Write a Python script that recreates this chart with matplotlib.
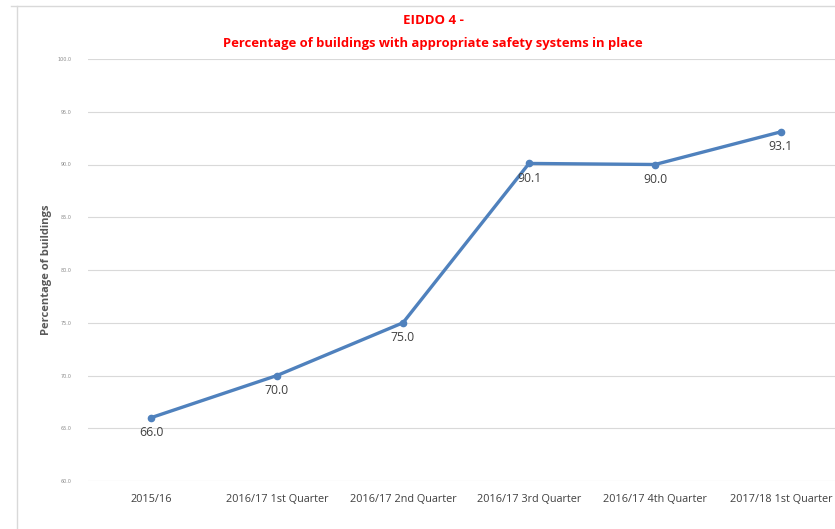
import matplotlib
matplotlib.use("Agg")
import matplotlib.pyplot as plt
from matplotlib.lines import Line2D

categories = ["2015/16", "2016/17 1st Quarter", "2016/17 2nd Quarter",
              "2016/17 3rd Quarter", "2016/17 4th Quarter", "2017/18 1st Quarter"]
values = [66.0, 70.0, 75.0, 90.1, 90.0, 93.1]
yticks = [60.0, 65.0, 70.0, 75.0, 80.0, 85.0, 90.0, 95.0, 100.0]

W, H = 835, 529
fig = plt.figure(figsize=(W / 100, H / 100), dpi=100)
fig.patch.set_facecolor("white")

left_px, right_px, top_px, bot_px = 88, 835, 59, 481
ax = fig.add_axes([left_px / W, 1 - bot_px / H, (right_px - left_px) / W, (bot_px - top_px) / H])

x = list(range(len(categories)))
ax.plot(x, values, color="#4F81BD", lw=2.4, marker="o", ms=4.5, solid_capstyle="round")
for xi, v in zip(x, values):
    ax.annotate(f"{v:.1f}", (xi, v), xytext=(0, -6), textcoords="offset points",
                ha="center", va="top", fontsize=8.8, color="#404040",
                family="Open Sans")

ax.set_ylim(60, 100)
ax.set_xlim(-0.5, -0.5 + (right_px - left_px) / 126)
ax.set_yticks(yticks)
ax.set_yticklabels([f"{t:.1f}" for t in yticks], fontsize=3.5, color="#8c8c8c")
ax.set_xticks(x)
ax.set_xticklabels(categories, fontsize=7.8, color="#404040", family="Open Sans")
ax.tick_params(axis="both", length=0)
ax.tick_params(axis="y", pad=12)
ax.tick_params(axis="x", pad=9)
ax.grid(axis="y", color="#d9d9d9", lw=0.8)
ax.set_axisbelow(True)
for s in ax.spines.values():
    s.set_visible(False)

fig.text(47 / W, 1 - 270 / H, "Percentage of buildings", rotation=90, ha="center", va="center",
         fontsize=8, fontweight="bold", color="#595959", family="Open Sans")

fig.text(433 / W, 1 - 20 / H, "EIDDO 4 -", ha="center", va="center", fontsize=9.5,
         fontweight="bold", color="#FF0000", family="Open Sans")
fig.text(433 / W, 1 - 43 / H, "Percentage of buildings with appropriate safety systems in place",
         ha="center", va="center", fontsize=9.4, fontweight="bold", color="#FF0000",
         family="Open Sans")

# outer chart frame (left and top edges visible)
fig.add_artist(Line2D([17 / W, 17 / W], [0, 1 - 6 / H], transform=fig.transFigure,
                      color="#d9d9d9", lw=1))
fig.add_artist(Line2D([11 / W, 1], [1 - 6 / H, 1 - 6 / H], transform=fig.transFigure,
                      color="#d9d9d9", lw=1))

fig.savefig("out.png", dpi=100)
